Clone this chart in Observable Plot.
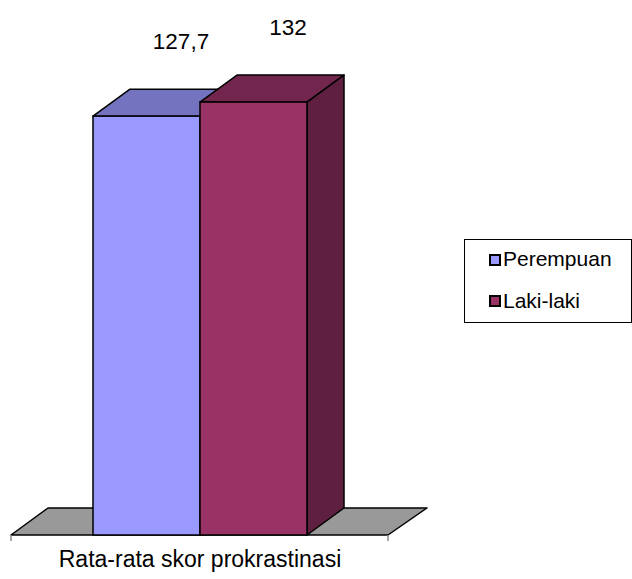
<!DOCTYPE html>
<html>
<head>
<meta charset="utf-8">
<script src="https://cdn.jsdelivr.net/npm/d3@7"></script>
<script src="https://cdn.jsdelivr.net/npm/@observablehq/plot@0.6"></script>
<style>
  html, body { margin: 0; padding: 0; background: #fff; }
  #wrap { position: relative; width: 632px; height: 579px; font-family: "Liberation Sans", Arial, sans-serif; }
  #legend { position: absolute; left: 464px; top: 239px; width: 168px; height: 84px; box-sizing: border-box; border: 1px solid #000; background: #fff; }
  .sw { position: absolute; width: 12px; height: 12px; box-sizing: border-box; border: 2px solid #000; }
  .lt { position: absolute; font-size: 21px; line-height: 21px; color: #000; white-space: nowrap; }
</style>
</head>
<body>
<div id="wrap"></div>
<script>
// ---- data ----
const category = "Rata-rata skor prokrastinasi";
const series = ["Perempuan", "Laki-laki"];
const values = [127.7, 132];
const labels = ["127,7", "132"];
const frontColors = ["#9999FF", "#993366"];
const topColors = ["#7373C0", "#73264D"];
const sideColors = ["#5C5C99", "#5F1F40"];

const data = series.map((s, i) => ({series: s, value: values[i], label: labels[i]}));

const DX = 37, DY = -27; // depth offset of the 3D effect (pixels)

function findScales(args) {
  return args.find(a => a && typeof a === "object" && !Array.isArray(a) && typeof a.x === "function" && typeof a.y === "function");
}
function findDims(args) {
  return args.find(a => a && typeof a === "object" && "marginLeft" in a && "width" in a);
}

// floor + end ticks
function floorMark(...args) {
  const sc = findScales(args), dim = findDims(args);
  const x0 = dim.marginLeft, x1 = dim.width - dim.marginRight, y0 = sc.y(0);
  const g = d3.create("svg:g");
  g.append("path")
    .attr("d", `M${x0},${y0}L${x1},${y0}L${x1 + DX + 2},${y0 + DY}L${x0 + DX},${y0 + DY}Z`)
    .attr("fill", "#999999").attr("stroke", "#000").attr("stroke-width", 1.5).attr("stroke-linejoin", "round");
  for (const x of [x0, x1]) {
    g.append("line").attr("x1", x).attr("x2", x).attr("y1", y0).attr("y2", y0 + 6)
      .attr("stroke", "#888").attr("stroke-width", 1.5);
  }
  return g.node();
}

// top and side faces of the 3D columns
function depthFaces(...args) {
  const sc = findScales(args);
  const bw = sc.x(series[1]) - sc.x(series[0]);
  const g = d3.create("svg:g").attr("stroke", "#000").attr("stroke-width", 1.5).attr("stroke-linejoin", "round");
  data.forEach((d, i) => {
    const xl = sc.x(d.series), xr = xl + bw, yt = sc.y(d.value), yb = sc.y(0);
    g.append("path")
      .attr("d", `M${xl},${yt}L${xr},${yt}L${xr + DX},${yt + DY}L${xl + DX},${yt + DY}Z`)
      .attr("fill", topColors[i]);
    g.append("path")
      .attr("d", `M${xr},${yt}L${xr + DX},${yt + DY}L${xr + DX},${yb + DY}L${xr},${yb}Z`)
      .attr("fill", sideColors[i]);
  });
  return g.node();
}

const chart = Plot.plot({
  width: 632,
  height: 579,
  marginLeft: 11,
  marginRight: 244,
  marginTop: 43,
  marginBottom: 44,
  style: {fontFamily: "'Liberation Sans', Arial, sans-serif", fontSize: "20px", background: "transparent", overflow: "visible"},
  x: {type: "band", domain: series, paddingInner: 0, paddingOuter: 0.75, axis: null},
  y: {domain: [0, 150], axis: null},
  color: {domain: series, range: frontColors},
  marks: [
    floorMark,
    depthFaces,
    Plot.barY(data, {x: "series", y: "value", fill: "series", stroke: "#000", strokeWidth: 1.5}),
    Plot.text(data, {x: "series", y: "value", text: "label", dx: 34, dy: -75, fontSize: 22.5, fill: "#000"}),
    Plot.text([category], {frameAnchor: "bottom", text: d => d, dy: 31, fontSize: 23, fill: "#000"})
  ]
});

const wrap = document.getElementById("wrap");
wrap.appendChild(chart);

// legend
const legend = document.createElement("div");
legend.id = "legend";
series.forEach((s, i) => {
  const sw = document.createElement("div");
  sw.className = "sw";
  sw.style.left = "24px";
  sw.style.top = (14 + i * 41) + "px";
  sw.style.background = frontColors[i];
  legend.appendChild(sw);
  const t = document.createElement("div");
  t.className = "lt";
  t.style.left = "38px";
  t.style.top = (8 + i * 42) + "px";
  t.textContent = s;
  legend.appendChild(t);
});
wrap.appendChild(legend);
</script>
</body>
</html>
